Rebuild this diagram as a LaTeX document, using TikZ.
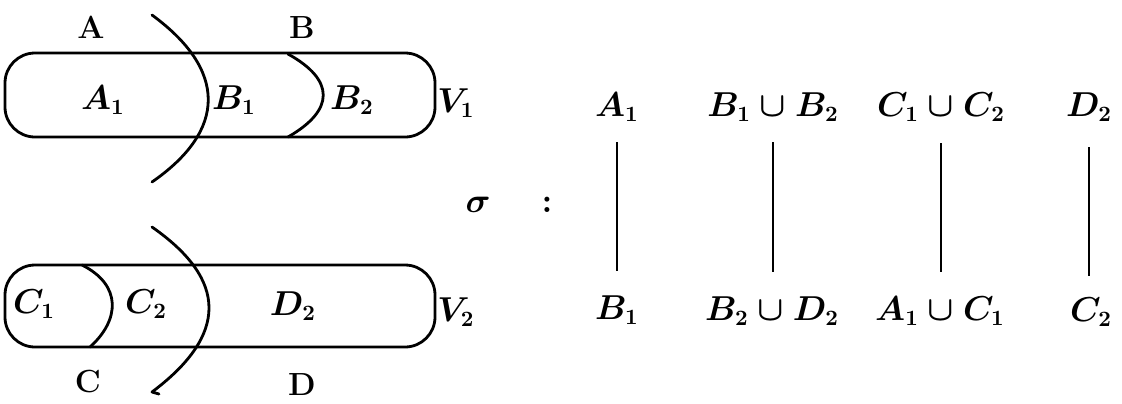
\documentclass[tikz,border=0pt]{standalone}
\usepackage{amsmath}
\begin{document}
\begin{tikzpicture}[x=0.5pt,y=-0.5pt, line width=1.4pt,
  mathlbl/.style={inner sep=0pt, font=\fontsize{16}{19}\selectfont\boldmath},
  partlbl/.style={inner sep=0pt, font=\fontsize{16}{19}\selectfont\bfseries},
  setbox/.style={draw, rounded corners=15pt, minimum width=215pt, minimum height=42pt, inner sep=0pt},
  cut/.style={line cap=round, line join=round},
  maplink/.style={line width=1.4pt}]
\useasboundingbox (0,0) rectangle (1122,403);

% the two sets
\node[setbox] (v1box) at (220,95) {};
\node[setbox, minimum height=41pt] (v2box) at (220,306) {};

% cuts in V1
\draw[cut] (152,15) .. controls (227,70) and (227,130) .. (152,182);
\draw[cut] (288,54) .. controls (335,80) and (335,110) .. (288,137);
% cuts in V2
\draw[cut] (152,227) .. controls (228,280) and (228,335) .. (152,392) -- ++(7,2);
\draw[cut] (82,265) .. controls (122,285) and (120,320) .. (90,347);

% part labels
\node[partlbl] (pA) at (91,27) {A};
\node[partlbl] (pB) at (302,28) {B};
\node[partlbl] (pC) at (88,382) {C};
\node[partlbl] (pD) at (302,385) {D};

% region labels
\node[mathlbl] (rA1) at (103,100) {$A_1$};
\node[mathlbl] (rB1) at (234,100) {$B_1$};
\node[mathlbl] (rB2) at (352,100) {$B_2$};
\node[mathlbl] (rV1) at (456,103) {$V_1$};
\node[mathlbl] (rC1) at (34,304) {$C_1$};
\node[mathlbl] (rC2) at (146,304) {$C_2$};
\node[mathlbl] (rD2) at (293,306) {$D_2$};
\node[mathlbl] (rV2) at (456,312) {$V_2$};

% the map sigma
\node[mathlbl] (sig) at (478,205) {$\sigma$};
\node[mathlbl] (col) at (547,205) {$:$};

\node[mathlbl, anchor=base] (t1) at (617,116) {$A_1$};
\node[mathlbl, anchor=base] (t2) at (773,116) {$B_1\cup B_2$};
\node[mathlbl, anchor=base] (t3) at (941,116) {$C_1\cup C_2$};
\node[mathlbl, anchor=base] (t4) at (1089,116) {$D_2$};

\node[mathlbl, anchor=base] (b1) at (617,319) {$B_1$};
\node[mathlbl, anchor=base] (b2) at (772,320) {$B_2\cup D_2$};
\node[mathlbl, anchor=base] (b3) at (940,320) {$A_1\cup C_1$};
\node[mathlbl, anchor=base] (b4) at (1091,321) {$C_2$};

\draw[maplink, shorten <=13pt, shorten >=24pt] (t1.base) -- (t1.base |- b1.base);
\draw[maplink, shorten <=13pt, shorten >=24pt] (t2.base) -- (t2.base |- b2.base);
\draw[maplink, shorten <=13.5pt, shorten >=24pt] (t3.base) -- (t3.base |- b3.base);
\draw[maplink, shorten <=15.5pt, shorten >=22.5pt] (t4.base) -- (t4.base |- b4.base);
\end{tikzpicture}
\end{document}
